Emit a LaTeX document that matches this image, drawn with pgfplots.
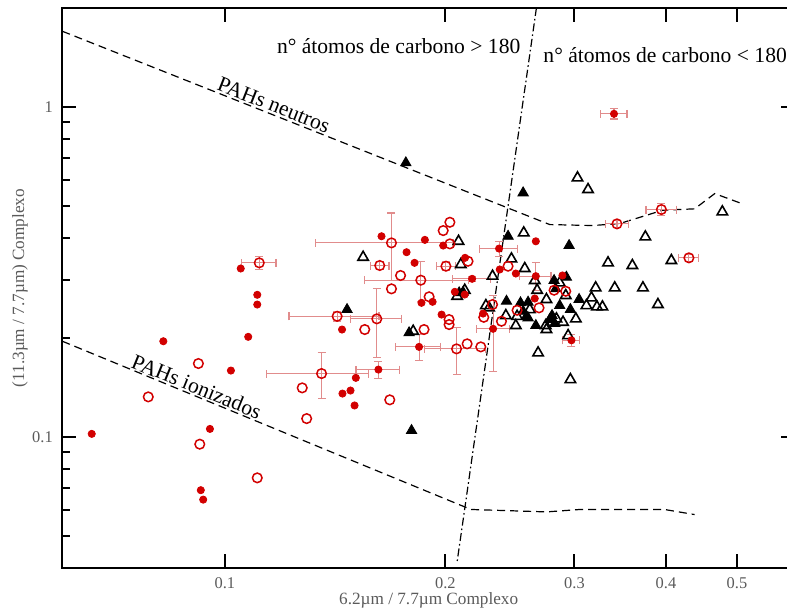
\documentclass[border=0pt]{standalone}
\usepackage{fontspec}
\setmainfont{Liberation Serif}
\usepackage{pgfplots}
\pgfplotsset{compat=1.18}
\definecolor{datred}{RGB}{210,0,0}
\definecolor{errpink}{RGB}{225,140,140}
\definecolor{labgray}{RGB}{90,90,90}

\begin{document}
\begin{tikzpicture}
\begin{axis}[
  scale only axis,
  width=366.3pt, height=280pt,
  xmode=log, ymode=log,
  xmin=0.06, xmax=0.6, ymin=0.04, ymax=2,
  xtick={0.1,0.2,0.3,0.4,0.5},
  xticklabels={0.1,0.2,0.3,0.4,0.5},
  ytick={0.1,1}, yticklabels={0.1,1},
  minor xtick={},
  minor ytick={0.05,0.06,0.07,0.08,0.09,0.2,0.3,0.4,0.5,0.6,0.7,0.8,0.9},
  tick align=inside,
  major tick length=7pt, minor tick length=4pt,
  every tick/.style={black, line width=1pt},
  axis line style={line width=1pt},
  tick label style={font=\fontsize{8.2}{9}\selectfont, text=labgray},
  yticklabel style={xshift=-1.3pt},
  xticklabel style={yshift=-1.3pt},
  xlabel={6.2µm / 7.7µm Complexo},
  ylabel={(11.3µm / 7.7µm) Complexo},
  label style={font=\fontsize{8.6}{10}\selectfont, text=labgray},
  xlabel style={at={(axis description cs:0.5,-0.0571)}, anchor=center},
  ylabel style={at={(axis description cs:-0.0579,0.5)}, anchor=center},
  clip=false,
]
\coordinate (bbsw) at (rel axis cs:0,0);
\coordinate (bbne) at (rel axis cs:1,1);

% guide lines
\addplot[black, line width=0.6pt, dash pattern=on 4pt off 2.5pt] coordinates {
  (0.06,1.70) (0.2776,0.4405) (0.3177,0.4376) (0.3458,0.4437) (0.396,0.487)
  (0.4377,0.4917) (0.4662,0.547) (0.5043,0.5128)};
\addplot[black, line width=0.6pt, dash pattern=on 4pt off 2.5pt] coordinates {
  (0.06,0.195) (0.2125,0.0613) (0.2171,0.0602) (0.2748,0.0592) (0.305,0.0602)
  (0.3983,0.0602) (0.4377,0.0581)};
\addplot[black, line width=0.6pt, dash pattern=on 4pt off 1.5pt on 0.8pt off 1.5pt] coordinates {
  (0.2662,2.0) (0.2074,0.04155)};

% open triangles
\addplot[only marks, mark=triangle, mark size=3pt, black, mark options={line width=0.8pt}] coordinates {
  (0.1544,0.3507) (0.1807,0.2091) (0.2084,0.3920) (0.2099,0.3333) (0.2558,0.4157)
  (0.2461,0.3467) (0.2566,0.3241) (0.2319,0.3072) (0.2125,0.2785) (0.2075,0.2671)
  (0.3029,0.6106) (0.3131,0.5627) (0.3749,0.4043) (0.3334,0.3372) (0.3599,0.3310)
  (0.4775,0.4816) (0.4068,0.3427) (0.2648,0.2980) (0.2864,0.2933) (0.2668,0.2785)
  (0.2919,0.2684) (0.3207,0.2832) (0.3405,0.2832) (0.3721,0.2832) (0.2747,0.2610)
  (0.3165,0.2641) (0.3115,0.2502) (0.3220,0.2479) (0.3276,0.2479) (0.3013,0.2280)
  (0.2835,0.2280) (0.2894,0.2227) (0.2747,0.2116) (0.2941,0.2029) (0.2676,0.1798)
  (0.2962,0.1492) (0.3900,0.2520) (0.2271,0.2502) (0.2294,0.2462) (0.2418,0.2333)
  (0.2495,0.2176) (0.2505,0.2321) (0.2607,0.2433) (0.2741,0.2176)};

% filled triangles
\addplot[only marks, mark=triangle*, mark size=3pt, black] coordinates {
  (0.1766,0.6781) (0.2553,0.5498) (0.1468,0.2433) (0.1798,0.1045) (0.1784,0.2068)
  (0.2435,0.4060) (0.2950,0.3805) (0.2088,0.2735) (0.2814,0.2980) (0.2925,0.3050)
  (0.2829,0.2812) (0.3044,0.2610) (0.2593,0.2561) (0.2864,0.2502) (0.2962,0.2433)
  (0.2796,0.2333) (0.2776,0.2269) (0.2657,0.2176) (0.2593,0.2296) (0.2423,0.2579)
  (0.2532,0.2550) (0.2553,0.2404) (0.2580,0.2321) (0.2820,0.2207) (0.2114,0.2746)};

% red open circles with errors
\addplot[only marks, mark=o, mark size=2.4pt, datred, mark options={line width=0.75pt},
  error bars/.cd, x dir=both, x explicit, y dir=both, y explicit,
  error bar style={errpink, line width=0.55pt},
  error mark options={rotate=90, errpink, mark size=2pt, line width=0.55pt}] coordinates {
  (0.1114,0.3372) +- (0.006,0.016)
  (0.1688,0.3877) +- (0.036,0.09)
  (0.1627,0.3310) +- (0.0048,0.01)
  (0.1423,0.2321) +- (0.020,0.008)
  (0.1612,0.2280) +- (0.013,0.054)
  (0.2071,0.1849) +- (0.02,0.03)
  (0.1355,0.1556) +- (0.0216,0.0245)
  (0.1851,0.2987) +- (0.03,0.041)
  (0.2003,0.3294) +- (0.006,0.01)
  (0.3429,0.4427) +- (0.0125,0.01)
  (0.3943,0.4894) +- (0.0186,0.02)
  (0.4299,0.3492) +- (0.0135,0.008)};

% red filled circles with errors
\addplot[only marks, mark=*, mark size=1.8pt, datred,
  error bars/.cd, x dir=both, x explicit, y dir=both, y explicit,
  error bar style={errpink, line width=0.55pt},
  error mark options={rotate=90, errpink, mark size=2pt, line width=0.55pt}] coordinates {
  (0.1620,0.1600) +- (0.011,0.0097)
  (0.1841,0.1875) +- (0.013,0.017)
  (0.2367,0.3726) +- (0.0144,0.02)
  (0.2657,0.3072) +- (0.013,0.03)
  (0.2972,0.1963) +- (0.008,0.008)
  (0.3397,0.9549) +- (0.0142,0.034)
  (0.2175,0.3016) +- (0.013,0.005)
  (0.2323,0.2127) +- (0.012,0.055)};

% red open circles
\addplot[only marks, mark=o, mark size=2.4pt, datred, mark options={line width=0.75pt}] coordinates {
  (0.0920,0.1669) (0.0786,0.1322) (0.0924,0.0950) (0.1107,0.0751) (0.1737,0.3087)
  (0.1688,0.2812) (0.1552,0.2116) (0.1870,0.2116) (0.2023,0.2269) (0.2023,0.2191)
  (0.2256,0.2305) (0.2385,0.2242) (0.2141,0.1915) (0.2235,0.1875) (0.1275,0.1408)
  (0.1679,0.1295) (0.1293,0.1136) (0.2028,0.4477) (0.1986,0.4224) (0.2028,0.3850)
  (0.2147,0.3410) (0.1900,0.2660) (0.2435,0.3294) (0.2814,0.2785) (0.2919,0.2765)
  (0.2684,0.2462) (0.2505,0.2421) (0.2319,0.2520)};

% red filled circles
\addplot[only marks, mark=*, mark size=1.8pt, datred] coordinates {
  (0.0658,0.1021) (0.0824,0.1950) (0.1076,0.2011) (0.1019,0.1589) (0.0954,0.1057)
  (0.0927,0.0689) (0.0934,0.0645) (0.1051,0.3241) (0.1107,0.2697) (0.1107,0.2520)
  (0.1636,0.4060) (0.1770,0.3632) (0.1445,0.2116) (0.1447,0.1353) (0.1484,0.1382)
  (0.1503,0.1245) (0.1509,0.1510) (0.1875,0.3959) (0.1986,0.3805) (0.1815,0.3372)
  (0.2127,0.3492) (0.2372,0.3219) (0.2495,0.3130) (0.1855,0.2550) (0.1921,0.2568)
  (0.2060,0.2754) (0.2125,0.2702) (0.1976,0.2349) (0.2657,0.3920) (0.2889,0.3087)
  (0.2648,0.2628) (0.2251,0.2366)};

% annotations
\node[anchor=base, rotate=-21.5, font=\fontsize{10.8}{12}\selectfont] at (axis cs:0.1157,0.9704) {PAHs neutros};
\node[anchor=base, rotate=-22.2, font=\fontsize{10.8}{12}\selectfont] at (axis cs:0.0907,0.1356) {PAHs ionizados};
\node[anchor=base west, font=\fontsize{10.8}{12}\selectfont] at (axis cs:0.1152,1.455) {n° átomos de carbono > 180};
\node[anchor=base west, font=\fontsize{10.8}{12}\selectfont] at (axis cs:0.2662,1.363) {n° átomos de carbono < 180};
\end{axis}
\pgfresetboundingbox
\path[use as bounding box] ([xshift=-31.2pt,yshift=-22pt]bbsw) rectangle ([xshift=-4pt,yshift=4pt]bbne);
\end{tikzpicture}
\end{document}
